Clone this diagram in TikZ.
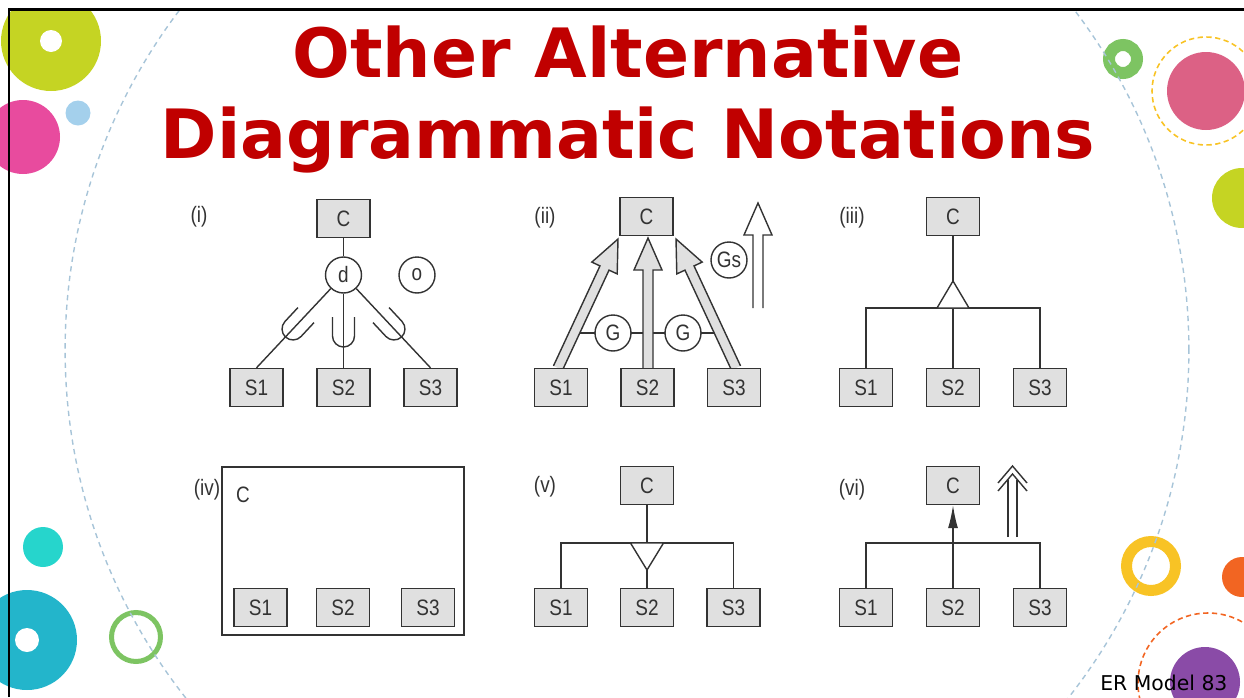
\documentclass[tikz,border=0pt]{standalone}
\usepackage{fontspec}
\setmainfont{Liberation Sans}
\newfontfamily\headfont{DejaVu Sans}
\newfontfamily\diagfont[FakeStretch=0.85]{Liberation Sans}
\usetikzlibrary{calc,arrows.meta}

\definecolor{titlered}{HTML}{C00000}
\definecolor{linegray}{HTML}{333333}
\definecolor{boxgray}{HTML}{E0E0E0}
\definecolor{arcblue}{HTML}{A7C4D8}
\definecolor{dotlime}{HTML}{C5D423}
\definecolor{dotpink}{HTML}{E84B9E}
\definecolor{dotsky}{HTML}{A4D0EC}
\definecolor{dotteal}{HTML}{26D5CC}
\definecolor{dotcyan}{HTML}{23B5CB}
\definecolor{dotgreen}{HTML}{7DC462}
\definecolor{dotrose}{HTML}{DC6185}
\definecolor{dotyellow}{HTML}{F8C325}
\definecolor{dotorange}{HTML}{F26522}
\definecolor{dotpurple}{HTML}{8A4BA7}

\tikzset{
  ent/.style={draw=linegray, fill=boxgray, minimum width=1.06cm, minimum height=0.76cm,
    inner sep=0pt, text=linegray, font=\diagfont\fontsize{12.7}{15}\selectfont},
  gen/.style={draw=linegray, fill=white, circle, minimum size=0.72cm, inner sep=0pt,
    text=linegray, font=\diagfont\fontsize{12.7}{15}\selectfont},
  tag/.style={text=linegray, font=\diagfont\fontsize{12.7}{15}\selectfont},
  % subset sign, open side up
  cup/.pic={\draw (-11,-19) -- (-11,0) .. controls (-11,6) and (-6,11) .. (0,11)
    .. controls (6,11) and (11,6) .. (11,0) -- (11,-19);}
}

% wide arrow from #2 to #3, filled with #1
\newcommand{\fatarrow}[3]{%
  \coordinate (hb) at ($(#3)!0.64cm!(#2)$);
  \filldraw[draw=linegray, fill=#1] ($(#2)!0.1cm!90:(#3)$) -- ($(hb)!0.1cm!90:(#3)$)
    -- ($(hb)!0.28cm!90:(#3)$) -- (#3) -- ($(hb)!0.28cm!-90:(#3)$)
    -- ($(hb)!0.1cm!-90:(#3)$) -- ($(#2)!0.1cm!-90:(#3)$);
}

\begin{document}
\begin{tikzpicture}[x=0.02cm, y=-0.02cm, line width=0.8pt]
  \useasboundingbox (0,0) rectangle (1244,697);
  \clip (0,0) rectangle (1244,697);

  % Dots
  \begin{scope}
    \clip (0,9) rectangle (1244,697);
    \fill[dotlime] (51,41) circle[radius=50];
    \fill[white] (51,41) circle[radius=11];
    \fill[dotpink] (23,137) circle[radius=37];
    \fill[dotsky] (78,113) circle[radius=12.5];
    \fill[dotteal] (43,547) circle[radius=20];
    \fill[dotcyan] (27,640) circle[radius=50];
    \fill[white] (27,640) circle[radius=12];
    \draw[dotgreen, line width=0.1cm] (136,637) circle[radius=24.5];
    \draw[dotgreen, line width=0.24cm] (1123,59) circle[radius=14];
    \draw[dotyellow, line width=0.9pt, dash pattern=on 3pt off 2pt] (1206,91) circle[radius=54];
    \fill[dotrose] (1206,91) circle[radius=39];
    \fill[dotlime] (1242,198) circle[radius=30];
    \draw[dotyellow, line width=0.22cm] (1151,566) circle[radius=24.5];
    \fill[dotorange] (1242,577) circle[radius=20];
    \draw[dotorange, line width=0.9pt, dash pattern=on 3pt off 2pt] (1208,683) circle[radius=70];
    \fill[dotpurple] (1205,682) circle[radius=35];
    \draw[arcblue, line width=0.8pt, dash pattern=on 3pt off 2.5pt] (627,350) circle[radius=11.24cm];
  \end{scope}

  % Frame
  \draw[line width=0.06cm] (9,697) -- (9,9) -- (1244,9);

  % Title
  \node[anchor=base, text=titlered, font=\headfont\bfseries\fontsize{38.7}{46}\selectfont]
    (title1) at (628,77) {Other Alternative};
  \node[anchor=base, text=titlered, font=\headfont\bfseries\fontsize{38.7}{46}\selectfont]
    (title2) at (628,158) {Diagrammatic Notations};
  \node[anchor=base east, font=\headfont\fontsize{11.6}{14}\selectfont] (foot) at (1234,690) {ER Model 83};

  % (i)
  \node[tag] (lab1) at (199,217) {(i)};
  \node[ent] (c1) at (343.5,218.5) {C};
  \node[gen] (d1) at (343.5,275) {d};
  \node[gen] (o1) at (417,275) {o};
  \node[ent] (s11) at (256.5,387.5) {S1};
  \node[ent] (s12) at (343.5,387.5) {S2};
  \node[ent] (s13) at (430.5,387.5) {S3};
  \draw[linegray] (c1) -- (d1);
  \draw[linegray] (d1) -- (s11.north);
  \draw[linegray] (d1) -- (s12.north);
  \draw[linegray] (d1) -- (s13.north);
  \pic[linegray, rotate=-43] at (293,329) {cup};
  \pic[linegray] at (343.5,336) {cup};
  \pic[linegray, rotate=43] at (394,329) {cup};

  % (ii)
  \node[tag] (lab2) at (545,218) {(ii)};
  \coordinate (j1) at (574,333);
  \coordinate (j2) at (719.5,333);
  \draw[linegray] (j1) -- (j2);
  \coordinate (ta1) at (558,368);   \coordinate (tp1) at (618,239);
  \coordinate (ta2) at (648,368);   \coordinate (tp2) at (648,238);
  \coordinate (ta3) at (736,368);   \coordinate (tp3) at (676,239);
  \coordinate (ta4) at (758,308);   \coordinate (tp4) at (758,203);
  \fatarrow{boxgray}{ta1}{tp1}
  \fatarrow{boxgray}{ta2}{tp2}
  \fatarrow{boxgray}{ta3}{tp3}
  \fatarrow{white}{ta4}{tp4}
  \node[ent] (c2) at (646.5,216.5) {C};
  \node[ent] (s21) at (561,387.5) {S1};
  \node[ent] (s22) at (647.5,387.5) {S2};
  \node[ent] (s23) at (734,387.5) {S3};
  \node[gen] (g21) at (613,333) {G};
  \node[gen] (g22) at (683,333) {G};
  \node[gen] (gs2) at (729,260) {Gs};

  % (iii)
  \node[tag] (lab3) at (852,218) {(iii)};
  \node[ent] (c3) at (953,216.5) {C};
  \node[ent] (s31) at (866,387.5) {S1};
  \node[ent] (s32) at (953,387.5) {S2};
  \node[ent] (s33) at (1040,387.5) {S3};
  \coordinate (v3) at (953,281);
  \coordinate (h3) at (953,308);
  \draw[linegray] (c3) -- (v3);
  \draw[linegray] (s31.north) |- (h3) -| (s33.north);
  \draw[linegray] (h3) -- (s32.north);
  \draw[linegray, fill=white] (v3) -- ++(-16,27) -- ++(32,0) -- cycle;

  % (iv)
  \node[tag] (lab4) at (207,490) {(iv)};
  \draw[linegray] (222,467) rectangle (464,635);
  \node[tag] (c4) at (243,495) {C};
  \node[ent] (s41) at (260.5,607.5) {S1};
  \node[ent] (s42) at (343,607.5) {S2};
  \node[ent] (s43) at (428,607.5) {S3};

  % (v)
  \node[tag] (lab5) at (545,487) {(v)};
  \node[ent] (c5) at (647,485.5) {C};
  \node[ent] (s51) at (561,607.5) {S1};
  \node[ent] (s52) at (647,607.5) {S2};
  \node[ent] (s53) at (733.5,607.5) {S3};
  \coordinate (h5) at (647,543);
  \coordinate (v5) at (647,570);
  \draw[linegray] (c5) -- (h5);
  \draw[linegray] (s51.north) |- (h5) -| (s53.north);
  \draw[linegray, fill=white] (v5) -- ++(-16.5,-27) -- ++(33,0) -- cycle;
  \draw[linegray] (v5) -- (s52.north);

  % (vi)
  \node[tag] (lab6) at (852,490) {(vi)};
  \node[ent] (c6) at (953,485.5) {C};
  \node[ent] (s61) at (866,607.5) {S1};
  \node[ent] (s62) at (953,607.5) {S2};
  \node[ent] (s63) at (1040,607.5) {S3};
  \coordinate (h6) at (953,543);
  \draw[linegray] (s61.north) |- (h6) -| (s63.north);
  \draw[linegray, -{Latex[length=0.46cm, width=0.2cm]}] (s62.north) -- (c6.south);
  \draw[linegray] (998,483) -- (1012.5,466) -- (1027,483);
  \draw[linegray] (998,491) -- (1012.5,474) -- (1027,491);
  \draw[linegray] (1008,537) -- (1008,479.5);
  \draw[linegray] (1017,537) -- (1017,479.5);
\end{tikzpicture}
\end{document}
